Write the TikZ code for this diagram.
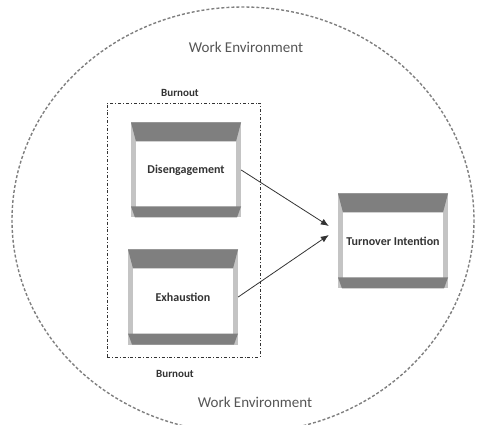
\documentclass[tikz,border=0pt]{standalone}
\usepackage{fontspec}
\setmainfont{Carlito}
\usepackage{tikz}
\usetikzlibrary{arrows.meta, positioning}

\definecolor{bandgray}{HTML}{7F7F7F}
\definecolor{sidegray}{HTML}{C4C4C4}
\definecolor{labeltext}{HTML}{333333}
\definecolor{envtext}{HTML}{555555}

\begin{document}
\begin{tikzpicture}[x=1pt, y=-1pt,
    trybox/.style={fill=sidegray, minimum width=110pt, minimum height=95pt, inner sep=0pt,
        text=labeltext, font=\bfseries\fontsize{12}{14}\selectfont,
        path picture={
            \fill[white] ([xshift=5pt,yshift=-18pt]path picture bounding box.north west) rectangle ([xshift=-5pt,yshift=10pt]path picture bounding box.south east);
            \fill[bandgray] (path picture bounding box.north west) -- (path picture bounding box.north east) -- ([xshift=-5pt,yshift=-19pt]path picture bounding box.north east) -- ([xshift=5pt,yshift=-19pt]path picture bounding box.north west) -- cycle;
            \fill[bandgray] ([yshift=11pt]path picture bounding box.south west) -- ([yshift=11pt]path picture bounding box.south east) -- ([xshift=-4pt]path picture bounding box.south east) -- ([xshift=4pt]path picture bounding box.south west) -- cycle;
        }},
    envlabel/.style={text=envtext, font=\fontsize{15}{17}\selectfont},
    burnlabel/.style={text=labeltext, font=\bfseries\fontsize{11}{13}\selectfont}]

    \clip (0,0) rectangle (480,425);

    % work environment
    \draw[bandgray, line width=1.4pt, dash pattern=on 3pt off 2pt] (243,220) ellipse [x radius=231, y radius=213];
    \node[envlabel] (envtop) at (246,47) {Work Environment};
    \node[envlabel] (envbot) at (255,402) {Work Environment};

    % burnout frame
    \node[draw=labeltext, line width=0.8pt, dash dot, minimum width=153pt, minimum height=254pt, inner sep=0pt] (burnout) at (183.5,230) {};
    \node[burnlabel] (burntop) at (180,93) {Burnout};
    \node[burnlabel] (burnbot) at (175,374) {Burnout};

    % constructs
    \node[trybox] (diseng) at (186,170) {Disengagement};
    \node[trybox] (exhaust) at (183,297) {Exhaustion};
    \node[trybox] (turnover) at (393,241) {Turnover Intention};

    % arrows
    \draw[-{Latex[length=8pt,width=6.5pt]}, line width=0.8pt, labeltext] (diseng.east) -- ([xshift=-9pt,yshift=15pt]turnover.west);
    \draw[-{Latex[length=8pt,width=6.5pt]}, line width=0.8pt, labeltext] (exhaust.east) -- ([xshift=-9pt,yshift=6pt]turnover.west);
\end{tikzpicture}
\end{document}
